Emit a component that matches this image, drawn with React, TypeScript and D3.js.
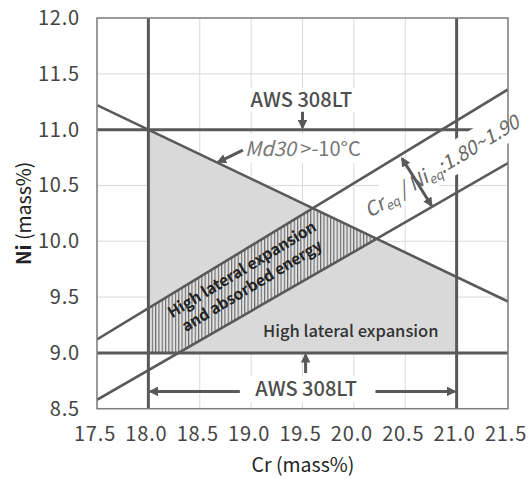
import React from "react";
import * as d3 from "d3";

// Axis ticks
const crTicks = [17.5, 18.0, 18.5, 19.0, 19.5, 20.0, 20.5, 21.0, 21.5];
const niTicks = [8.5, 9.0, 9.5, 10.0, 10.5, 11.0, 11.5, 12.0];

// AWS 308LT composition limits
const awsCrRange = [18.0, 21.0];
const awsNiRange = [9.0, 11.0];
const awsNiTopEnd = 21.2; // right end of the upper Ni limit line

// Md30 > -10°C boundary (Cr, Ni endpoints)
const md30Line: [number, number][] = [
  [17.5, 11.22],
  [21.5, 9.46],
];
// Creq/Nieq = 1.80 and 1.90 boundaries
const ratioUpper: [number, number][] = [
  [17.5, 9.12],
  [21.5, 11.36],
];
const ratioLower: [number, number][] = [
  [17.5, 8.58],
  [21.5, 10.7],
];

const W = 530;
const H = 479;
const M = { left: 97, right: 508, top: 18, bottom: 408.7 };

const FONT = "'Noto Sans CJK JP', 'Noto Sans', sans-serif";
const DARK = "#595959";

type Seg = [number, number][];
const slope = (s: Seg) => (s[1][1] - s[0][1]) / (s[1][0] - s[0][0]);
const at = (s: Seg, x: number) => s[0][1] + slope(s) * (x - s[0][0]);
const xAtY = (s: Seg, y: number) => s[0][0] + (y - s[0][1]) / slope(s);
const intersect = (a: Seg, b: Seg): [number, number] => {
  const x = (at(b, 0) - at(a, 0)) / (slope(a) - slope(b));
  return [x, at(a, x)];
};

export default function App() {
  const x = d3.scaleLinear().domain([17.5, 21.5]).range([M.left, M.right]);
  const y = d3.scaleLinear().domain([8.5, 12]).range([M.bottom, M.top]);
  const line = d3
    .line<[number, number]>()
    .x((d) => x(d[0]))
    .y((d) => y(d[1]));

  const [cr0, cr1] = awsCrRange;
  const [ni0, ni1] = awsNiRange;

  // Region inside AWS limits and below the Md30 boundary
  const greyPoly: [number, number][] = [
    [cr0, ni0],
    [cr0, at(md30Line, cr0)],
    [cr1, at(md30Line, cr1)],
    [cr1, ni0],
  ];
  // Sub-region between the two Creq/Nieq lines
  const pUpper = intersect(ratioUpper, md30Line);
  const pLower = intersect(ratioLower, md30Line);
  const hatchPoly: [number, number][] = [
    [cr0, ni0],
    [cr0, at(ratioUpper, cr0)],
    pUpper,
    pLower,
    [xAtY(ratioLower, ni0), ni0],
  ];

  // text angle follows the ratio lines in screen space
  const pxSlope =
    (y(at(ratioUpper, 21.5)) - y(at(ratioUpper, 17.5))) / (x(21.5) - x(17.5));
  const angle = (Math.atan(pxSlope) * 180) / Math.PI;

  const ratioLabel = { cr: 20.86, ni: 10.665 };
  const md30ArrowEnd: [number, number] = [18.68, at(md30Line, 18.68)];

  return (
    <svg
      width={W}
      height={H}
      style={{ position: "absolute", left: 0, top: 0, background: "#fff" }}
      fontFamily={FONT}
    >
      <defs>
        <pattern
          id="vhatch"
          patternUnits="userSpaceOnUse"
          width={3.3}
          height={10}
        >
          <rect width={3.3} height={10} fill="#e2e2e2" />
          <line x1={0.6} x2={0.6} y1={0} y2={10} stroke="#5a5a5a" strokeWidth={1} />
        </pattern>
        <marker
          id="arrow"
          viewBox="0 0 10 10"
          refX={8}
          refY={5}
          markerWidth={3.2}
          markerHeight={3.2}
          orient="auto-start-reverse"
          markerUnits="strokeWidth"
        >
          <path d="M0,0 L10,5 L0,10 z" fill={DARK} />
        </marker>
        <clipPath id="plot">
          <rect x={M.left} y={M.top} width={M.right - M.left} height={M.bottom - M.top} />
        </clipPath>
      </defs>

      {/* grid */}
      <g stroke="#d9d9d9" strokeWidth={1}>
        {crTicks.map((t) => (
          <line key={"gx" + t} x1={x(t)} x2={x(t)} y1={M.top} y2={M.bottom} />
        ))}
        {niTicks.map((t) => (
          <line key={"gy" + t} x1={M.left} x2={M.right} y1={y(t)} y2={y(t)} />
        ))}
      </g>

      {/* regions */}
      <path d={line(greyPoly) + "Z"} fill="#d9d9d9" />
      <path d={line(hatchPoly) + "Z"} fill="url(#vhatch)" />

      {/* text backgrounds that mask the grid */}
      <rect x={244} y={88} width={116} height={24} fill="#fff" />
      <rect x={240} y={134} width={132} height={29} fill="#fff" />
      <rect x={248} y={376} width={118} height={26} fill="#fff" />

      {/* boundary lines */}
      <g clipPath="url(#plot)" fill="none" stroke={DARK} strokeWidth={3}>
        <path d={line(md30Line) || ""} strokeWidth={2.6} />
        <path d={line(ratioUpper) || ""} strokeWidth={2.6} />
        <path d={line(ratioLower) || ""} strokeWidth={2.6} />
        <line x1={x(17.5)} x2={x(awsNiTopEnd)} y1={y(ni1)} y2={y(ni1)} />
        <line x1={x(17.5)} x2={x(21.5)} y1={y(ni0)} y2={y(ni0)} />
        <line x1={x(cr0)} x2={x(cr0)} y1={M.top} y2={M.bottom} />
        <line x1={x(cr1)} x2={x(cr1)} y1={M.top} y2={M.bottom} />
      </g>

      {/* plot frame */}
      <rect
        x={M.left}
        y={M.top}
        width={M.right - M.left}
        height={M.bottom - M.top}
        fill="none"
        stroke="#7f7f7f"
        strokeWidth={1.5}
      />

      {/* Creq/Nieq label with its white box */}
      <g
        transform={`translate(${x(ratioLabel.cr)},${y(ratioLabel.ni)}) rotate(${angle})`}
      >
        <rect x={-78} y={-17} width={156} height={31} fill="#fff" />
        <text
          textAnchor="middle"
          y={6}
          fontSize={19.5}
          fill="#666"
          fontStyle="italic"
        >
          <tspan>Cr</tspan>
          <tspan fontSize={12.5} dy={4}>eq</tspan>
          <tspan dy={-4}> / Ni</tspan>
          <tspan fontSize={12.5} dy={4}>eq</tspan>
          <tspan dy={-4}>:1.80~1.90</tspan>
        </text>
      </g>

      {/* arrows */}
      <g stroke={DARK} strokeWidth={3} fill="none">
        <line
          x1={x(19.5)}
          x2={x(19.5)}
          y1={y(11.16)}
          y2={y(ni1) - 2}
          markerEnd="url(#arrow)"
        />
        <line
          x1={x(19.53)}
          x2={x(19.53)}
          y1={y(8.82)}
          y2={y(ni0) + 2}
          markerEnd="url(#arrow)"
        />
        <line
          x1={x(18.92)}
          y1={y(10.817)}
          x2={x(md30ArrowEnd[0])}
          y2={y(md30ArrowEnd[1]) - 1}
          markerEnd="url(#arrow)"
        />
        <line
          x1={x(18.89)}
          x2={x(cr0) + 2}
          y1={y(8.655)}
          y2={y(8.655)}
          markerEnd="url(#arrow)"
        />
        <line
          x1={x(20.21)}
          x2={x(cr1) - 2}
          y1={y(8.655)}
          y2={y(8.655)}
          markerEnd="url(#arrow)"
        />
        <line
          x1={x(20.47)}
          y1={y(10.74)}
          x2={x(20.755)}
          y2={y(10.32)}
          markerStart="url(#arrow)"
          markerEnd="url(#arrow)"
        />
      </g>

      {/* annotations */}
      <text
        x={x(19.49)}
        y={y(11.2)}
        textAnchor="middle"
        fontSize={20}
        fontWeight={500}
        fill="#4d4d4d"
      >
        AWS 308LT
      </text>
      <text x={x(19.535)} y={y(8.615)} textAnchor="middle" fontSize={20} fontWeight={500} fill="#4d4d4d">
        AWS 308LT
      </text>
      <text x={245} y={156} fontSize={20} fill="#777">
        <tspan fontStyle="italic">Md30</tspan>
        <tspan> &gt;-10°C</tspan>
      </text>
      <text
        x={x(19.97)}
        y={y(9.14)}
        textAnchor="middle"
        fontSize={16.5}
        fontWeight={500}
        fill="#333"
      >
        High lateral expansion
      </text>
      <g transform={`translate(249,281) rotate(${angle})`}>
        <text
          textAnchor="middle"
          fontSize={15.5}
          fontWeight={700}
          fill="#222"
          y={-8}
        >
          High lateral expansion
        </text>
        <text
          textAnchor="middle"
          fontSize={15.5}
          fontWeight={700}
          fill="#222"
          y={11}
        >
          and absorbed energy
        </text>
      </g>

      {/* tick labels */}
      <g fontSize={20} fill="#444" letterSpacing={0.8}>
        {niTicks.map((t) => (
          <text key={"ty" + t} x={80} y={y(t) + 7} textAnchor="end">
            {t.toFixed(1)}
          </text>
        ))}
        {crTicks.map((t) => (
          <text key={"tx" + t} x={x(t) - 2} y={441} textAnchor="middle">
            {t.toFixed(1)}
          </text>
        ))}
      </g>

      {/* axis titles */}
      <text x={303} y={472} textAnchor="middle" fontSize={19.5} fill="#222">
        Cr (mass%)
      </text>
      <text
        transform={`translate(31,${(M.top + M.bottom) / 2}) rotate(-90)`}
        textAnchor="middle"
        fontSize={19.5}
        fill="#222"
      >
        <tspan fontWeight={700}>Ni</tspan>
        <tspan> (mass%)</tspan>
      </text>
    </svg>
  );
}
